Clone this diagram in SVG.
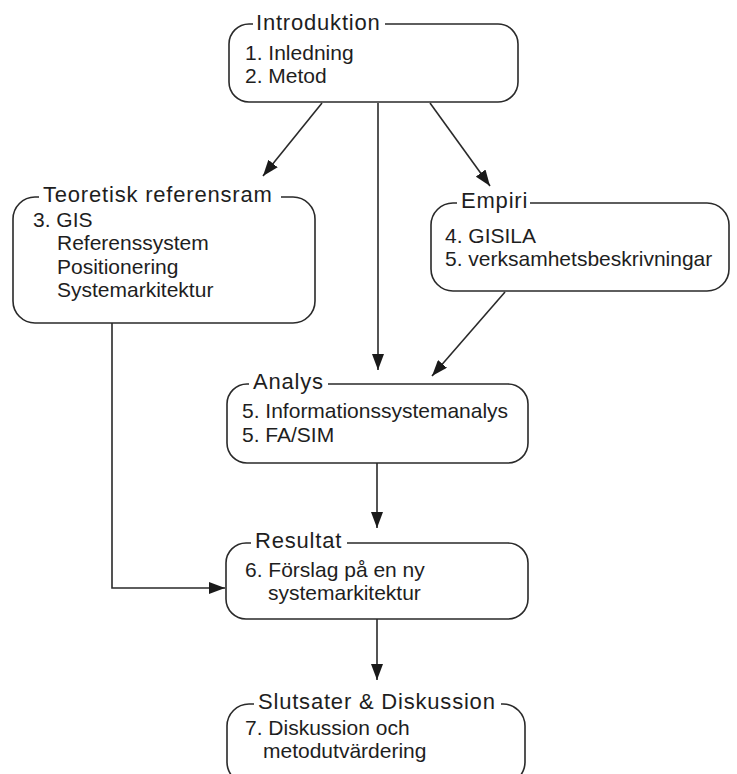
<svg xmlns="http://www.w3.org/2000/svg" width="737" height="774" viewBox="0 0 737 774">
  <defs>
    <marker id="arrow" viewBox="0 0 16 12" markerWidth="16" markerHeight="12" refX="16" refY="6" orient="auto" markerUnits="userSpaceOnUse">
      <path d="M0,0 L16,6 L0,12 z" fill="#1a1a1a"/>
    </marker>
    <style>
      .box { fill: none; stroke: #2a2a2a; stroke-width: 1.6; }
      .title { font-family: "Liberation Sans", Arial, sans-serif; font-size: 22px; letter-spacing: 0.8px; fill: #1e1e1e; }
      .body { font-family: "Liberation Sans", Arial, sans-serif; font-size: 21px; fill: #1e1e1e; }
      .conn { fill: none; stroke: #2a2a2a; stroke-width: 1.6; }
    </style>
  </defs>
  <rect width="737" height="774" fill="#ffffff"/>

  <!-- connectors -->
  <g id="connectors">
    <path class="conn" d="M322,103 L263,176" marker-end="url(#arrow)"/>
    <path class="conn" d="M378,103 L378,370" marker-end="url(#arrow)"/>
    <path class="conn" d="M430,103 L490,186" marker-end="url(#arrow)"/>
    <path class="conn" d="M505,292 L432,376" marker-end="url(#arrow)"/>
    <path class="conn" d="M377,463 L377,528" marker-end="url(#arrow)"/>
    <path class="conn" d="M377,619 L377,680" marker-end="url(#arrow)"/>
    <path class="conn" d="M112,323 V588 H225" marker-end="url(#arrow)"/>
  </g>

  <!-- rounded frames, top edge left open where the heading sits -->
  <g id="introduktion">
    <path class="box" d="M385,24 H498 A20,20 0 0 1 518,44 V82 A20,20 0 0 1 498,102 H249 A20,20 0 0 1 229,82 V44 A20,20 0 0 1 249,24 H253"/>
    <text class="title" x="256" y="30">Introduktion</text>
    <text class="body" x="245" y="60">1. Inledning</text>
    <text class="body" x="245" y="83">2. Metod</text>
  </g>

  <g id="teoretisk">
    <path class="box" d="M281,197 H293 A22,22 0 0 1 315,219 V301 A22,22 0 0 1 293,323 H35 A22,22 0 0 1 13,301 V219 A22,22 0 0 1 35,197 H39"/>
    <text class="title" x="43" y="202">Teoretisk referensram</text>
    <text class="body" x="33" y="227">3. GIS</text>
    <text class="body" x="57" y="250">Referenssystem</text>
    <text class="body" x="57" y="274">Positionering</text>
    <text class="body" x="57" y="297">Systemarkitektur</text>
  </g>

  <g id="empiri">
    <path class="box" d="M530,203 H707 A22,22 0 0 1 729,225 V269 A22,22 0 0 1 707,291 H453 A22,22 0 0 1 431,269 V225 A22,22 0 0 1 453,203 H457"/>
    <text class="title" x="461" y="208">Empiri</text>
    <text class="body" x="445" y="243">4. GISILA</text>
    <text class="body" x="445" y="266">5. verksamhetsbeskrivningar</text>
  </g>

  <g id="analys">
    <path class="box" d="M328,384 H508 A20,20 0 0 1 528,404 V443 A20,20 0 0 1 508,463 H247 A20,20 0 0 1 227,443 V404 A20,20 0 0 1 247,384 H249"/>
    <text class="title" x="253" y="389">Analys</text>
    <text class="body" x="242" y="418">5. Informationssystemanalys</text>
    <text class="body" x="242" y="442">5. FA/SIM</text>
  </g>

  <g id="resultat">
    <path class="box" d="M347,543 H508 A20,20 0 0 1 528,563 V599 A20,20 0 0 1 508,619 H246 A20,20 0 0 1 226,599 V563 A20,20 0 0 1 246,543 H251"/>
    <text class="title" x="255" y="548">Resultat</text>
    <text class="body" x="245" y="577">6. Förslag på en ny</text>
    <text class="body" x="268" y="600">systemarkitektur</text>
  </g>

  <g id="slutsater">
    <path class="box" d="M501,704 H503 A22,22 0 0 1 525,726 V762 A22,22 0 0 1 503,784 H249 A22,22 0 0 1 227,762 V726 A22,22 0 0 1 249,704 H254"/>
    <text class="title" x="258" y="709">Slutsater &amp; Diskussion</text>
    <text class="body" x="245" y="735">7. Diskussion och</text>
    <text class="body" x="263" y="758">metodutvärdering</text>
  </g>
</svg>
